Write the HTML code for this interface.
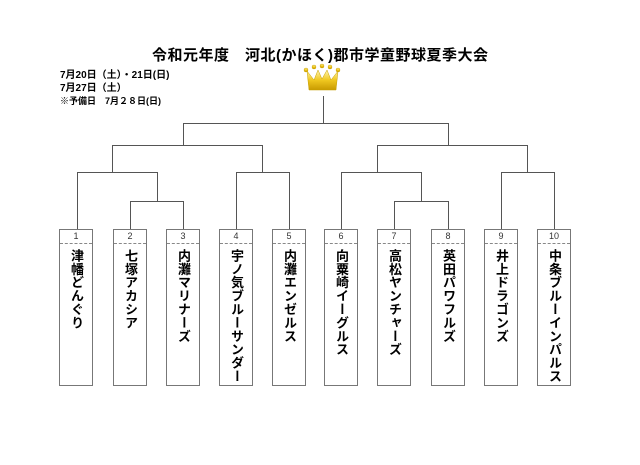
<!DOCTYPE html>
<html><head><meta charset="utf-8"><style>
body{margin:0;width:640px;height:465px;background:#fff;position:relative;overflow:hidden;font-family:"Liberation Sans","Noto Sans CJK JP",sans-serif}
.t{position:absolute;font-weight:bold;white-space:nowrap;color:#000}
.box{position:absolute;top:229px;width:34px;height:157px;border:1px solid #777;box-sizing:border-box;background:#fff;overflow:hidden}
.num{height:13px;border-bottom:1px dashed #888;font-size:9px;text-align:center;line-height:13px;color:#333}
.nm{writing-mode:vertical-rl;font-weight:bold;font-size:13px;letter-spacing:0.4px;margin:5px auto 0;line-height:32px;width:32px;text-orientation:upright}
</style></head><body>
<div class="t" style="left:152px;top:44px;font-size:15px;letter-spacing:0.5px">令和元年度　河北(かほく)郡市学童野球夏季大会</div>
<div class="t" style="left:60px;top:69px;font-size:10px;line-height:13px">7月20日（土）・21日(日)<br>7月27日（土）<br><span style="font-size:9px">※予備日　7月２８日(日)</span></div>
<svg width="640" height="465" style="position:absolute;left:0;top:0">
<defs><linearGradient id="g" x1="0" y1="0" x2="0" y2="1"><stop offset="0" stop-color="#fff6b0"/><stop offset="0.5" stop-color="#f0c820"/><stop offset="1" stop-color="#c89a00"/></linearGradient></defs>
<g fill="url(#g)" stroke="#c8a000" stroke-width="0.5">
<path d="M307,71 L314,80 L318,70 L322,79 L327,70 L331,80 L338,71 L336,90 L309,90 Z"/>
<circle cx="306" cy="70" r="2"/><circle cx="314" cy="67" r="2"/><circle cx="322" cy="66" r="2"/><circle cx="330" cy="67" r="2"/><circle cx="338" cy="70" r="2"/>
</g>
<g stroke="#555" stroke-width="1" fill="none">
<path d="M323.5,96 V123.5 M183.5,145 V123.5 H448.5 V145"/>
<path d="M112.5,172 V145.5 H262.5 V172"/>
<path d="M377.5,172 V145.5 H527.5 V172"/>
<path d="M77.5,229 V172.5 H157.5 V201"/>
<path d="M130.5,229 V201.5 H183.5 V229"/>
<path d="M236.5,229 V172.5 H289.5 V229"/>
<path d="M341.5,229 V172.5 H421.5 V201"/>
<path d="M394.5,229 V201.5 H448.5 V229"/>
<path d="M501.5,229 V172.5 H554.5 V229"/>
</g></svg>
<div class="box" style="left:59px"><div class="num">1</div><div class="nm">津幡どんぐり</div></div>
<div class="box" style="left:113px"><div class="num">2</div><div class="nm">七塚アカシア</div></div>
<div class="box" style="left:166px"><div class="num">3</div><div class="nm">内灘マリナーズ</div></div>
<div class="box" style="left:219px"><div class="num">4</div><div class="nm">宇ノ気ブルーサンダー</div></div>
<div class="box" style="left:272px"><div class="num">5</div><div class="nm">内灘エンゼルス</div></div>
<div class="box" style="left:324px"><div class="num">6</div><div class="nm">向粟崎イーグルス</div></div>
<div class="box" style="left:377px"><div class="num">7</div><div class="nm">高松ヤンチャーズ</div></div>
<div class="box" style="left:431px"><div class="num">8</div><div class="nm">英田パワフルズ</div></div>
<div class="box" style="left:484px"><div class="num">9</div><div class="nm">井上ドラゴンズ</div></div>
<div class="box" style="left:537px"><div class="num">10</div><div class="nm">中条ブルーインパルス</div></div>
</body></html>
